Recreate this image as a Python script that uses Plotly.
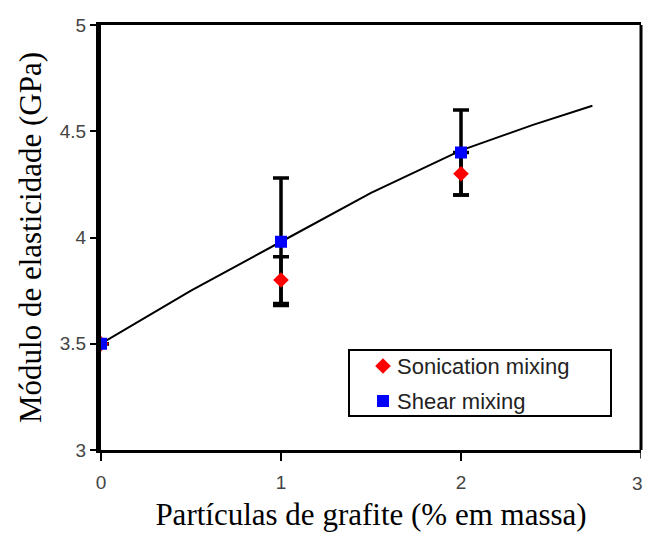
import plotly.graph_objects as go

# Data
fit_x = [0, 0.5, 1.0, 1.5, 2.0, 2.4, 2.73]
fit_y = [3.5, 3.75, 3.98, 4.21, 4.41, 4.53, 4.62]

son_x = [0, 1, 2]
son_y = [3.5, 3.8, 4.3]
son_err = [0, 0.11, 0.1]

shear_x = [0, 1, 2]
shear_y = [3.5, 3.98, 4.4]
shear_err = [0, 0.3, 0.2]

series_names = ["Sonication mixing", "Shear mixing"]
series_colors = ["#ff0000", "#0000ff"]
series_symbols = ["diamond", "square"]

xticks = [0, 1, 2]
xtick_edge = 3
yticks = [3, 3.5, 4, 4.5, 5]
ytick_text = ["3", "3.5", "4", "4.5", "5"]

tickfont = dict(family="Liberation Sans, Arial", size=19, color="#444")
titlefont = dict(family="Liberation Serif, Times New Roman", size=31, color="black")
legfont = dict(family="Liberation Sans, Arial", size=22, color="#222")

W, H = 645, 533
ML, MR, MT, MB = 101, 4, 25, 83
PW, PH = W - ML - MR, H - MT - MB

def px(xp):
    return (xp - ML) / PW

def py(yp):
    return (H - MB - yp) / PH

fig = go.Figure()
fig.add_trace(go.Scatter(x=fit_x, y=fit_y, mode="lines",
                         line=dict(color="black", width=2), showlegend=False))
fig.add_trace(go.Scatter(x=son_x, y=son_y, mode="markers", marker=dict(size=0.1, color="rgba(0,0,0,0)"),
                         error_y=dict(type="data", array=son_err, color="black", thickness=3.5, width=8),
                         showlegend=False))
fig.add_trace(go.Scatter(x=shear_x, y=shear_y, mode="markers", marker=dict(size=0.1, color="rgba(0,0,0,0)"),
                         error_y=dict(type="data", array=shear_err, color="black", thickness=3.5, width=8),
                         showlegend=False))
fig.add_trace(go.Scatter(x=son_x, y=son_y, mode="markers", name=series_names[0], showlegend=False,
                         marker=dict(symbol=series_symbols[0], size=12, color=series_colors[0])))
fig.add_trace(go.Scatter(x=shear_x, y=shear_y, mode="markers", name=series_names[1], showlegend=False,
                         marker=dict(symbol=series_symbols[1], size=12, color=series_colors[1])))

# right border
fig.add_shape(type="line", xref="paper", yref="paper", x0=1, x1=1, y0=0, y1=1,
              line=dict(color="black", width=3))
# tick at x=3 and its label
fig.add_shape(type="line", xref="x", yref="paper", x0=xtick_edge, x1=xtick_edge, y0=0, y1=-0.02,
              line=dict(color="black", width=1.5))
fig.add_annotation(x=xtick_edge, xref="x", y=-0.05, yref="paper", yanchor="top", xanchor="right",
                   xshift=4, text=str(xtick_edge), showarrow=False, font=tickfont)

# manual legend
fig.add_shape(type="rect", xref="paper", yref="paper", x0=px(349), x1=px(611), y0=py(416), y1=py(350),
              line=dict(color="black", width=2), fillcolor="white", layer="below")
leg_rows = [366, 401]
fig.add_trace(go.Scatter(x=[px(383)] * 2, y=[py(r) for r in leg_rows], xaxis="x2", yaxis="y2",
                         mode="markers", showlegend=False, hoverinfo="skip",
                         marker=dict(symbol=series_symbols, size=12, color=series_colors)))
for name, r in zip(series_names, leg_rows):
    fig.add_annotation(x=px(395), y=py(r), xref="paper", yref="paper", xanchor="left", yanchor="middle",
                       text=name, showarrow=False, font=legfont)

fig.update_layout(
    width=W, height=H,
    margin=dict(l=ML, r=MR, t=MT, b=MB),
    paper_bgcolor="white", plot_bgcolor="white",
    showlegend=False,
    xaxis=dict(range=[0, 3], tickvals=xticks, showgrid=False, zeroline=False,
               showline=True, linecolor="black", linewidth=3, mirror=True,
               ticks="outside", ticklen=8, tickwidth=1.5, tickcolor="black",
               tickfont=tickfont, ticklabelstandoff=5,
               title=dict(text="Partículas de grafite (% em massa)", standoff=12, font=titlefont)),
    yaxis=dict(range=[3, 5], tickvals=yticks, ticktext=ytick_text, showgrid=False, zeroline=False,
               showline=True, linecolor="black", linewidth=5,
               ticks="outside", ticklen=6, tickwidth=1.5, tickcolor="black",
               tickfont=tickfont,
               title=dict(text="Módulo de elasticidade (GPa)", standoff=10, font=titlefont)),
    xaxis2=dict(range=[0, 1], overlaying="x", visible=False, fixedrange=True),
    yaxis2=dict(range=[0, 1], overlaying="y", visible=False, fixedrange=True),
)

fig.write_html("out.html")
